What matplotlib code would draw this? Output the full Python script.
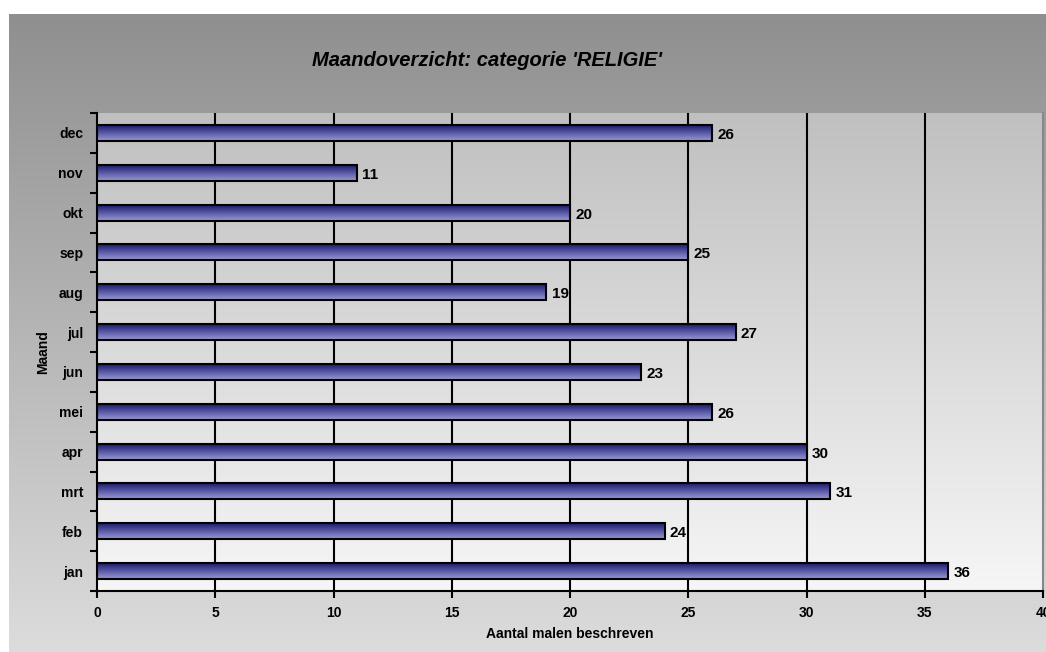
import numpy as np
import matplotlib
matplotlib.use("Agg")
import matplotlib.pyplot as plt
from matplotlib.colors import LinearSegmentedColormap

plt.rcParams['font.family'] = ['Liberation Sans', 'DejaVu Sans']

months = ['jan', 'feb', 'mrt', 'apr', 'mei', 'jun', 'jul', 'aug', 'sep', 'okt', 'nov', 'dec']
values = [36, 24, 31, 30, 26, 23, 27, 19, 25, 20, 11, 26]
xticks = [0, 5, 10, 15, 20, 25, 30, 35, 40]
title = "Maandoverzicht: categorie 'RELIGIE'"
xlabel = "Aantal malen beschreven"
ylabel = "Maand"

W, H = 1046, 652
fig = plt.figure(figsize=(W / 100, H / 100), dpi=100)
fig.patch.set_facecolor('white')

# figure background gradient panel
bg = fig.add_axes([9 / W, 0, 1 - 9 / W, (H - 14) / H], zorder=-10)
bg_cmap = LinearSegmentedColormap.from_list('bg', ['#8f8f8f', '#dcdcdc'])
bg.imshow(np.linspace(0, 1, 256).reshape(-1, 1), aspect='auto', cmap=bg_cmap,
          extent=[0, 1, 0, 1], origin='upper')
bg.set_axis_off()

ax = fig.add_axes([97 / W, 1 - 591 / H, (1043 - 97) / W, (591 - 113) / H])
ax.set_xlim(0, 40)
n = len(months)
ax.set_ylim(-0.5, n - 0.5)

# plot area gradient
pa_cmap = LinearSegmentedColormap.from_list('pa', ['#c0c0c0', '#f6f6f6'])
ax.imshow(np.linspace(0, 1, 256).reshape(-1, 1), aspect='auto', cmap=pa_cmap,
          extent=[0, 40, -0.5, n - 0.5], origin='upper', zorder=0)

for xv in xticks[1:-1]:
    ax.axvline(xv, color='black', lw=1.5, zorder=1)

y = np.arange(n)
bars = ax.barh(y, values, height=0.4, color='none', edgecolor='black', lw=1.5, zorder=3)
bar_cmap = LinearSegmentedColormap.from_list('bar', ['#1c1c6c', '#5a5aa6', '#9a9ad6'])
for b in bars:
    x0, y0, w, h = b.get_x(), b.get_y(), b.get_width(), b.get_height()
    im = ax.imshow(np.linspace(0, 1, 64).reshape(-1, 1), aspect='auto', cmap=bar_cmap,
                   extent=[x0, x0 + w, y0, y0 + h], origin='upper',
                   zorder=2, interpolation='bilinear')
    im.set_clip_path(b)

for yi, v in zip(y, values):
    ax.text(v + 0.22, yi - 0.05, str(v), va='center', ha='left', fontsize=11,
            fontweight='bold', zorder=4)

ax.set_xticks(xticks)
ax.set_xticklabels([str(t) for t in xticks], fontsize=10, fontweight='bold')
ax.set_yticks(y)
ax.set_yticklabels(months, fontsize=10, fontweight='bold')
ax.set_yticks(np.arange(-0.5, n, 1), minor=True)
ax.tick_params(axis='y', which='major', length=0, pad=10)
ax.tick_params(axis='y', which='minor', length=5, width=1.5, direction='out')
ax.tick_params(axis='x', which='major', length=5, width=1.5, direction='out', pad=6)

for s in ['left', 'bottom']:
    ax.spines[s].set_linewidth(1.5)
    ax.spines[s].set_color('black')
ax.spines['top'].set_visible(False)
ax.spines['right'].set_color('#888888')
ax.spines['right'].set_linewidth(1.5)

ax.set_xlabel(xlabel, fontsize=10, fontweight='bold', labelpad=5)
ax.set_ylabel(ylabel, fontsize=10, fontweight='bold', labelpad=6)

fig.text(487 / W, 1 - 60 / H, title, ha='center', va='center', fontsize=14.5,
         fontweight='bold', fontstyle='italic')

fig.savefig('out.png', dpi=100, facecolor=fig.get_facecolor())
